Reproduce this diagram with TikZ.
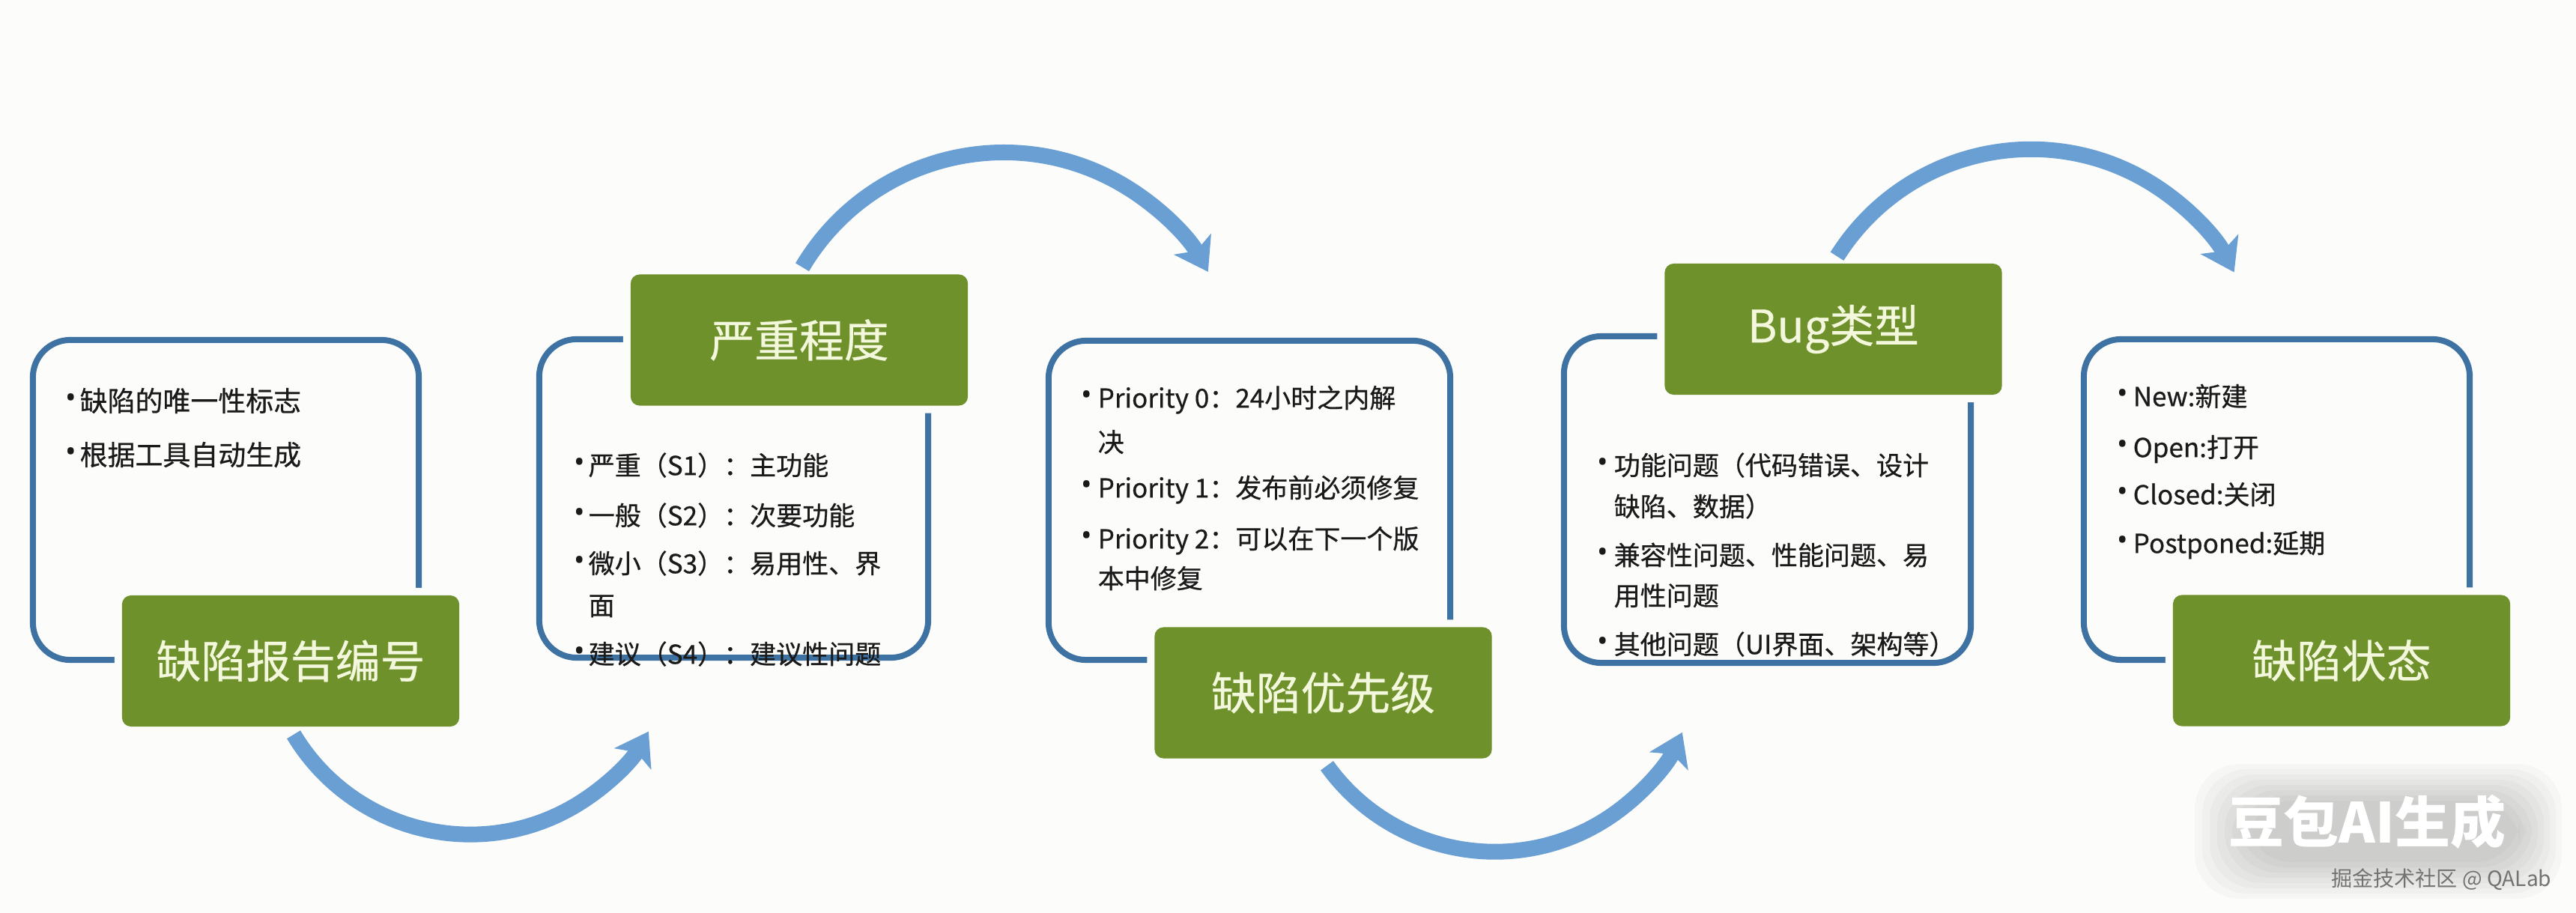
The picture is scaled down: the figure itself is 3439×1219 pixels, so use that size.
\documentclass[tikz,border=0pt]{standalone}
\usepackage{fontspec}
\setmainfont{Noto Sans CJK SC}
\newfontfamily\bodyfont{Noto Sans CJK SC}[FakeBold=0.6]
\newfontfamily\labelfont{Noto Sans CJK SC}[FakeBold=0.5]
\newfontfamily\bulletfont{Noto Sans}
\usetikzlibrary{arrows.meta,calc}
\definecolor{bgc}{HTML}{FCFCFA}
\definecolor{frameblue}{HTML}{3E72A2}
\definecolor{olivegreen}{HTML}{6E912C}
\definecolor{cream}{HTML}{F3F7DC}
\definecolor{arrowblue}{HTML}{6A9FD4}
\definecolor{txt}{HTML}{1A1A1A}
\begin{document}
\begin{tikzpicture}[x=0.01cm,y=-0.01cm,
  infobox/.style={draw=frameblue, line width=0.08cm, rounded corners=0.5cm, inner sep=0pt},
  greenlabel/.style={fill=olivegreen, rounded corners=0.12cm, minimum width=4.5cm, minimum height=1.75cm,
     inner sep=0pt, text=cream, font=\labelfont\fontsize{17}{20}\selectfont,
     preaction={draw=bgc, line width=0.2cm}},
  body/.style={anchor=west, inner sep=0pt, text=txt, font=\bodyfont\fontsize{9.96}{12}\selectfont,
     text height=8.8pt, text depth=1.2pt},
  bodybig/.style={body, font=\bodyfont\fontsize{10.5}{12.6}\selectfont, text height=9.3pt, text depth=1.3pt},
  bul/.style={anchor=center, inner sep=0pt, text=txt, font=\bulletfont\fontsize{11}{12}\selectfont},
  flow/.style={draw=arrowblue, line width=0.21cm, -{Stealth[length=0.42cm, width=0.56cm, inset=0.1cm]}}
]
\useasboundingbox (0,0) rectangle (3439,1219);
\fill[bgc] (0,0) rectangle (3439,1219);

% blue frames
\node[infobox, minimum width=5.15cm, minimum height=4.27cm] (b1) at (301.5,667.5) {};
\node[infobox, minimum width=5.19cm, minimum height=4.25cm] (b2) at (979.5,665.5) {};
\node[infobox, minimum width=5.36cm, minimum height=4.26cm] (b3) at (1668,668) {};
\node[infobox, minimum width=5.43cm, minimum height=4.36cm] (b4) at (2359.5,667) {};
\node[infobox, minimum width=5.15cm, minimum height=4.28cm] (b5) at (3039.5,667) {};

% green labels
\node[greenlabel] (g1) at (388,882.5) {缺陷报告编号};
\node[greenlabel] (g2) at (1067,454) {严重程度};
\node[greenlabel] (g3) at (1766.5,925) {缺陷优先级};
\node[greenlabel] (g4) at (2447.5,439.5) {Bug类型};
\node[greenlabel] (g5) at (3126,882) {缺陷状态};

% box 1 text
\node[bul] (p1a) at (95,535) {•};
\node[bodybig] (t1a) at (106,535) {缺陷的唯一性标志};
\node[bul] (p1b) at (95,607) {•};
\node[bodybig] (t1b) at (106,607) {根据工具自动生成};

% box 2 text
\node[bul] (p2a) at (774,621) {•};
\node[body] (t2a) at (785,621) {严重（S1）：主功能};
\node[bul] (p2b) at (774,688) {•};
\node[body] (t2b) at (785,688) {一般（S2）：次要功能};
\node[bul] (p2c) at (774,752) {•};
\node[body] (t2c) at (785,752) {微小（S3）：易用性、界};
\node[body] (t2d) at (785,808) {面};
\node[bul] (p2e) at (774,873) {•};
\node[body] (t2e) at (785,873) {建议（S4）：建议性问题};

% box 3 text
\node[bul] (p3a) at (1451,531) {•};
\node[body] (t3a) at (1465,531) {Priority 0：24小时之内解};
\node[body] (t3b) at (1465,590) {决};
\node[bul] (p3c) at (1451,651) {•};
\node[body] (t3c) at (1465,651) {Priority 1：发布前必须修复};
\node[bul] (p3d) at (1451,719) {•};
\node[body] (t3d) at (1465,719) {Priority 2：可以在下一个版};
\node[body] (t3e) at (1465,772) {本中修复};

% box 4 text
\node[bul] (p4a) at (2140,621) {•};
\node[body] (t4a) at (2154,621) {功能问题（代码错误、设计};
\node[body] (t4b) at (2154,676) {缺陷、数据）};
\node[bul] (p4c) at (2140,741) {•};
\node[body] (t4c) at (2154,741) {兼容性问题、性能问题、易};
\node[body] (t4d) at (2154,795) {用性问题};
\node[bul] (p4e) at (2140,860) {•};
\node[body] (t4e) at (2154,860) {其他问题（UI界面、架构等）};

% box 5 text
\node[bul] (p5a) at (2834,529) {•};
\node[body] (t5a) at (2847,529) {New:新建};
\node[bul] (p5b) at (2834,597) {•};
\node[body] (t5b) at (2847,597) {Open:打开};
\node[bul] (p5c) at (2834,660) {•};
\node[body] (t5c) at (2847,660) {Closed:关闭};
\node[bul] (p5d) at (2834,725) {•};
\node[body] (t5d) at (2847,725) {Postponed:延期};

% curved arrows
\draw[flow] ($(g1.south)+(4,10)$) arc[start angle=149, end angle=30, radius=275];
\draw[flow] ($(g2.north)+(4,-9)$) arc[start angle=210.7, end angle=330.6, radius=313];
\draw[flow] ($(g3.south)+(5,9)$) arc[start angle=144.3, end angle=25, radius=276];
\draw[flow] ($(g4.north)+(5,-9)$) arc[start angle=212.2, end angle=332.4, radius=306];

% watermark
\foreach \i in {0,...,7}{
  \fill[black, opacity=0.025, rounded corners=0.6cm]
    (2930+10*\i,1020+7*\i) rectangle (3420-8*\i,1200-7*\i);
}
\node[inner sep=0pt, text=white, font=\fontsize{21}{24}\selectfont\bfseries] (wm) at (3160,1097) {豆包AI生成};
\node[anchor=east, inner sep=0pt, text=black!55, font=\fontsize{8}{10}\selectfont] (wm2) at (3407,1174) {掘金技术社区 @ QALab};
\end{tikzpicture}
\end{document}
